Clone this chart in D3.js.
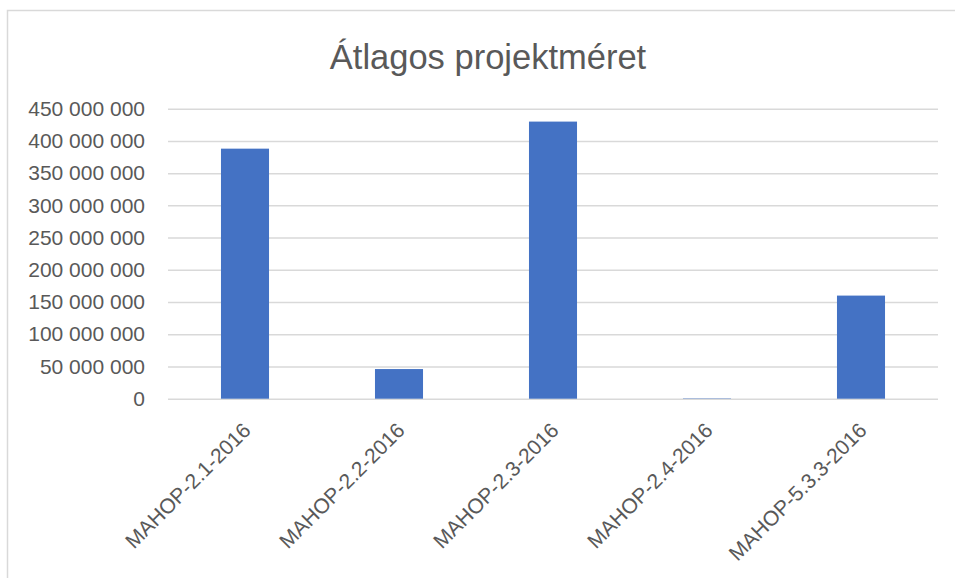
<!DOCTYPE html>
<html>
<head>
<meta charset="utf-8">
<script src="https://cdn.jsdelivr.net/npm/d3@7"></script>
<style>
  body { margin: 0; background: #ffffff; }
  svg { display: block; }
</style>
</head>
<body>
<script>
// Átlagos projektméret - oszlopdiagram

var categories = ["MAHOP-2.1-2016", "MAHOP-2.2-2016", "MAHOP-2.3-2016", "MAHOP-2.4-2016", "MAHOP-5.3.3-2016"];
var values = [388000000, 46000000, 430000000, 600000, 160000000];
var yTicks = [0, 50000000, 100000000, 150000000, 200000000, 250000000, 300000000, 350000000, 400000000, 450000000];
var title = "Átlagos projektméret";

var w = 955,
    h = 578;

var textCol = "#595959",
    gridCol = "#d9d9d9",
    barCol = "#4472c4",
    fontFam = "'Liberation Sans', Arial, sans-serif";

var plot = { left: 168, right: 938, top: 108.7, bottom: 398.7 };

var svg = d3.select("body").append("svg")
    .attr("width", w)
    .attr("height", h);

// Background
svg.append("rect")
    .attr("width", "100%")
    .attr("height", "100%")
    .attr("fill", "white");

// Chart border (only top and left show inside the picture)
svg.append("rect")
    .attr("x", 7.5)
    .attr("y", 10.5)
    .attr("width", w + 20)
    .attr("height", h + 20)
    .attr("fill", "none")
    .attr("stroke", gridCol)
    .attr("stroke-width", 1.5);

// Scales
var x = d3.scaleBand()
    .domain(categories)
    .range([plot.left, plot.right])
    .paddingInner(0.688)
    .paddingOuter(0.344);

var y = d3.scaleLinear()
    .domain([0, 450000000])
    .range([plot.bottom, plot.top]);

// Number format with space as thousands separator
var fmt = function(d) {
  return d3.format(",")(d).replace(/,/g, " ");
};

// Gridlines + y labels
var yAxis = d3.axisLeft(y)
    .tickValues(yTicks)
    .tickSize(-(plot.right - plot.left))
    .tickPadding(23)
    .tickFormat(fmt);

var gy = svg.append("g")
    .attr("transform", "translate(" + plot.left + ",0)")
    .call(yAxis);

gy.select(".domain").remove();
gy.selectAll(".tick line")
    .attr("stroke", gridCol)
    .attr("stroke-width", 1.5);
gy.selectAll(".tick text")
    .attr("fill", textCol)
    .style("font-family", fontFam)
    .style("font-size", "21px");

// Bars
svg.selectAll(".bar")
    .data(values)
    .enter().append("rect")
    .attr("class", "bar")
    .attr("x", function(d, i) { return x(categories[i]); })
    .attr("y", function(d) { return y(d); })
    .attr("width", x.bandwidth())
    .attr("height", function(d) { return plot.bottom - y(d); })
    .attr("fill", barCol);

// X axis labels, rotated
var xAxis = d3.axisBottom(x)
    .tickSize(0)
    .tickPadding(0);

var gx = svg.append("g")
    .attr("transform", "translate(0," + plot.bottom + ")")
    .call(xAxis);

gx.select(".domain").remove();
gx.selectAll(".tick text")
    .attr("fill", textCol)
    .style("font-family", fontFam)
    .style("font-size", "21px")
    .attr("text-anchor", "end")
    .attr("dy", null)
    .attr("y", 0)
    .attr("transform", "translate(7,33) rotate(-45)");

// Title
svg.append("text")
    .attr("x", 488)
    .attr("y", 69)
    .attr("text-anchor", "middle")
    .attr("fill", textCol)
    .style("font-family", fontFam)
    .style("font-size", "34.5px")
    .text(title);
</script>
</body>
</html>
